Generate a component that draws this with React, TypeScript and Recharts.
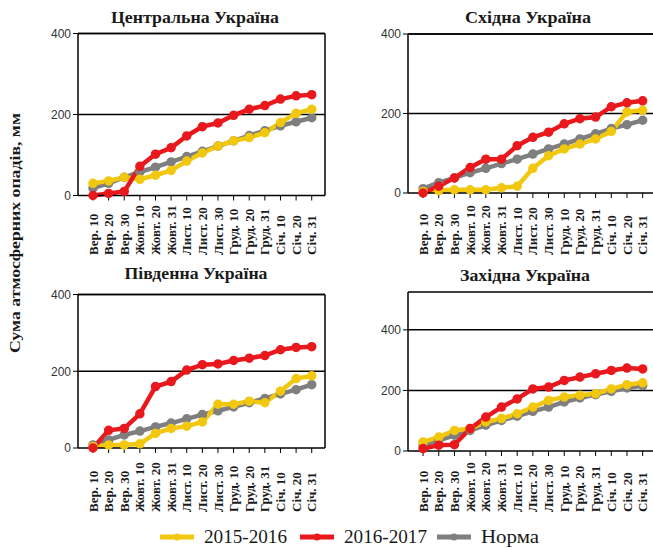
import { LineChart, Line, XAxis, YAxis, ReferenceLine } from 'recharts'

const categories = [
  'Вер. 10', 'Вер. 20', 'Вер. 30', 'Жовт. 10', 'Жовт. 20', 'Жовт. 31',
  'Лист. 10', 'Лист. 20', 'Лист. 30', 'Груд. 10', 'Груд. 20', 'Груд. 31',
  'Січ. 10', 'Січ. 20', 'Січ. 31'
]
const yTicks = [0, 200, 400]
const seriesNames = ['2015-2016', '2016-2017', 'Норма']

const central2015 = [30, 36, 45, 40, 50, 62, 85, 105, 122, 135, 143, 155, 180, 203, 213]
const central2016 = [0, 5, 10, 72, 102, 118, 147, 170, 179, 198, 213, 222, 238, 246, 249]
const centralNorm = [18, 30, 45, 58, 70, 83, 96, 109, 122, 135, 148, 160, 172, 182, 192]

const east2015 = [4, 6, 8, 8, 8, 13, 17, 62, 94, 111, 123, 136, 155, 204, 208]
const east2016 = [0, 17, 38, 64, 85, 85, 119, 140, 153, 174, 187, 191, 217, 227, 232]
const eastNorm = [11, 26, 38, 51, 62, 74, 85, 98, 111, 123, 136, 149, 162, 172, 183]

const south2015 = [4, 8, 8, 11, 38, 51, 57, 68, 114, 114, 122, 118, 148, 181, 188]
const south2016 = [0, 46, 51, 89, 160, 173, 203, 217, 219, 228, 234, 241, 256, 262, 264]
const southNorm = [8, 21, 34, 44, 55, 65, 76, 87, 97, 107, 118, 129, 141, 152, 165]

const west2015 = [30, 46, 68, 74, 96, 107, 123, 145, 167, 178, 184, 189, 205, 219, 225]
const west2016 = [8, 19, 21, 74, 112, 145, 172, 205, 211, 233, 244, 255, 266, 274, 271]
const westNorm = [19, 35, 52, 68, 85, 101, 115, 131, 145, 162, 175, 186, 197, 208, 216]

const YELLOW = '#f2c80f'
const RED = '#e8181c'
const GRAY = '#7f7f7f'
const SERIF = '"Liberation Serif", "Times New Roman", serif'
const SANS = '"Liberation Sans", Arial, sans-serif'

const X_MIN = -0.96
const X_MAX = 14.85

const rows = (a: number[], b: number[], n: number[]) =>
  categories.map((c, i) => ({ idx: i, name: c, s2015: a[i], s2016: b[i], norm: n[i] }))

const xTick = (p: any, bottom: number) => {
  const { x, payload } = p
  return (
    <text
      x={x}
      y={bottom}
      transform={`rotate(-90 ${x} ${bottom})`}
      textAnchor='start'
      dy='0.35em'
      fontSize={13}
      fontWeight='bold'
      fontFamily={SERIF}
      fill='#1a1a1a'
    >
      {categories[payload.value]}
    </text>
  )
}

interface PanelProps {
  data: ReturnType<typeof rows>
  left: number
  top: number
  marginTop: number
  marginRight: number
  axisH: number
  yMax: number
  labelBottom: number
}

const Panel = ({ data, left, top, marginTop, marginRight, axisH, yMax, labelBottom }: PanelProps) => (
  <div style={{ position: 'absolute', left, top }}>
    <LineChart
      width={300}
      height={270}
      data={data}
      margin={{ top: marginTop, right: marginRight, left: 0, bottom: 0 }}
    >
      <XAxis
        dataKey='idx'
        type='number'
        domain={[X_MIN, X_MAX]}
        ticks={categories.map((_, i) => i)}
        interval={0}
        height={axisH}
        axisLine={{ stroke: '#000', strokeWidth: 1.5 }}
        tickLine={{ stroke: '#000' }}
        tickSize={5}
        tick={(p: any) => xTick(p, labelBottom)}
      />
      <YAxis
        domain={[0, yMax]}
        ticks={yTicks}
        width={48}
        axisLine={{ stroke: '#000', strokeWidth: 1.5 }}
        tickLine={{ stroke: '#000' }}
        tickSize={5}
        tick={{ fontSize: 12, fill: '#333', fontFamily: SANS }}
      />
      <ReferenceLine y={200} stroke='#000' strokeWidth={1.5} />
      <ReferenceLine y={400} stroke='#000' strokeWidth={1.5} />
      <ReferenceLine y={yMax} stroke='#000' strokeWidth={1.5} />
      <ReferenceLine x={X_MAX} stroke='#000' strokeWidth={1.5} />
      <Line dataKey='norm' stroke={GRAY} strokeWidth={4.5} dot={{ r: 2.5, fill: GRAY, stroke: GRAY }} isAnimationActive={false} />
      <Line dataKey='s2015' stroke={YELLOW} strokeWidth={4.5} dot={{ r: 2.5, fill: YELLOW, stroke: YELLOW }} isAnimationActive={false} />
      <Line dataKey='s2016' stroke={RED} strokeWidth={4.5} dot={{ r: 2.5, fill: RED, stroke: RED }} isAnimationActive={false} />
    </LineChart>
  </div>
)

const legendItems = [
  { name: seriesNames[0], color: YELLOW, x: 160, w: 83 },
  { name: seriesNames[1], color: RED, x: 300, w: 83 },
  { name: seriesNames[2], color: GRAY, x: 437, w: 58 }
]

const titles = [
  { text: 'Центральна Україна', x: 195, y: 23, w: 168 },
  { text: 'Східна Україна', x: 528, y: 23, w: 126 },
  { text: 'Південна Україна', x: 196, y: 279, w: 143 },
  { text: 'Західна Україна', x: 525, y: 281, w: 130 }
]

export default function App() {
  return (
    <div
      style={{
        position: 'absolute',
        left: 0,
        top: 0,
        width: 653,
        height: 548,
        background: '#fff',
        overflow: 'hidden'
      }}
    >
      <Panel data={rows(central2015, central2016, centralNorm)} left={30} top={0}
        marginTop={33.5} marginRight={5} axisH={74.5} yMax={400} labelBottom={255} />
      <Panel data={rows(east2015, east2016, eastNorm)} left={360} top={0}
        marginTop={34} marginRight={4} axisH={77} yMax={400} labelBottom={255} />
      <Panel data={rows(south2015, south2016, southNorm)} left={30} top={260}
        marginTop={34.5} marginRight={5} axisH={82} yMax={400} labelBottom={252} />
      <Panel data={rows(west2015, west2016, westNorm)} left={360} top={260}
        marginTop={32} marginRight={4} axisH={79} yMax={525} labelBottom={252} />
      <svg
        width={653}
        height={548}
        style={{ position: 'absolute', left: 0, top: 0, pointerEvents: 'none' }}
      >
        <g fontFamily={SERIF} fontWeight='bold' fontSize={17} fill='#1a1a1a' textAnchor='middle'>
          {titles.map(t => (
            <text key={t.text} x={t.x} y={t.y} textLength={t.w} lengthAdjust='spacingAndGlyphs'>
              {t.text}
            </text>
          ))}
        </g>
        <text
          x={15}
          y={233}
          transform='rotate(-90 15 233)'
          textAnchor='middle'
          dy='0.35em'
          fontFamily={SERIF}
          fontWeight='bold'
          fontSize={15}
          fill='#1a1a1a'
          textLength={240}
          lengthAdjust='spacingAndGlyphs'
        >
          Сума атмосферних опадів, мм
        </text>
        {legendItems.map(it => (
          <g key={it.name}>
            <line x1={it.x} x2={it.x + 34} y1={537} y2={537} stroke={it.color} strokeWidth={5} />
            <circle cx={it.x + 17} cy={537} r={3.5} fill={it.color} />
            <text
              x={it.x + 44}
              y={537}
              dy='0.35em'
              fontFamily={SERIF}
              fontSize={18}
              fill='#1a1a1a'
              textLength={it.w}
              lengthAdjust='spacingAndGlyphs'
            >
              {it.name}
            </text>
          </g>
        ))}
      </svg>
    </div>
  )
}
